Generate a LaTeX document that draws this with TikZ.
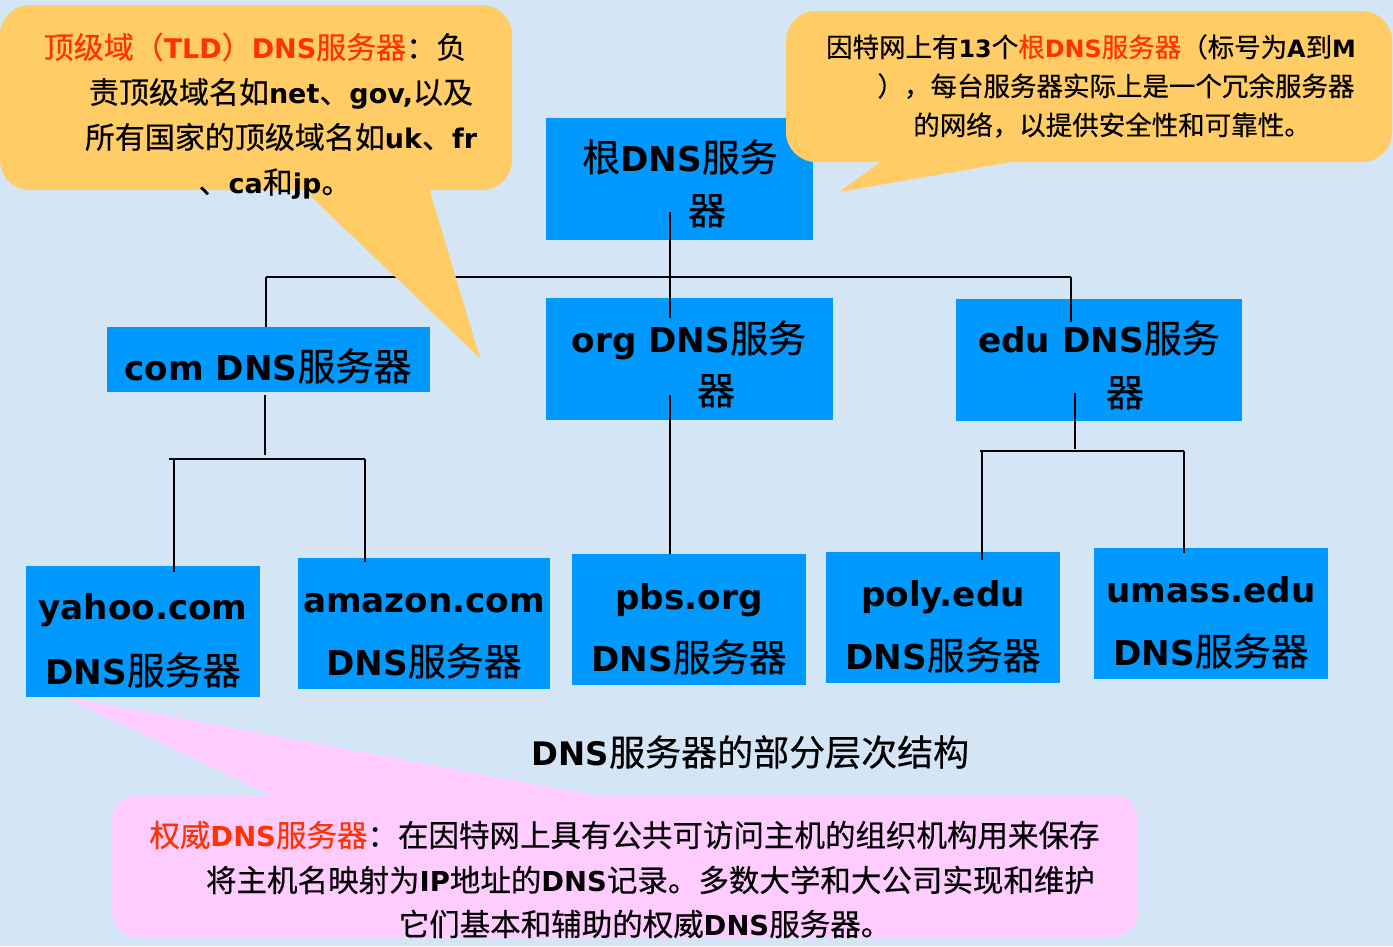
\documentclass[tikz,border=0pt]{standalone}
\usepackage{fontspec}
\setmainfont{Noto Sans CJK SC}[FakeBold=0.4]
\newfontfamily\latfont{DejaVu Sans}[Scale=0.9]
\definecolor{bgc}{HTML}{D4E5F6}
\definecolor{boxblue}{HTML}{0099FF}
\definecolor{calloutorange}{HTML}{FFCC66}
\definecolor{calloutpink}{HTML}{FFCCFF}
\definecolor{redtext}{HTML}{FF3300}
\newcommand{\lat}[1]{{\latfont\bfseries #1}}
\newcommand{\rt}[1]{\textcolor{redtext}{#1}}
\begin{document}
\begin{tikzpicture}[x=1pt,y=-1pt,
  box/.style={fill=boxblue, draw=none, rectangle, inner sep=0pt},
  txt/.style={inner sep=0pt, anchor=base},
  bigtxt/.style={txt, font=\fontsize{38}{40}\selectfont, yshift=-14.4pt},
  captxt/.style={txt, font=\fontsize{36}{40}\selectfont, yshift=-13.7pt},
  leaftxt/.style={txt, font=\fontsize{38}{40}\selectfont, yshift=-14.4pt},
  tldtxt/.style={txt, font=\fontsize{30}{32}\selectfont, yshift=-11.4pt},
  roottxt/.style={txt, font=\fontsize{26.5}{28}\selectfont, yshift=-10pt},
  pinktxt/.style={txt, font=\fontsize{30.5}{32}\selectfont, yshift=-11.6pt},
  link/.style={draw=black, line width=2.2pt},
  callout/.style={rectangle, rounded corners=30pt, inner sep=0pt, draw=none}
]
\useasboundingbox (0,0) rectangle (1393,946);
\fill[bgc] (0,0) rectangle (1393,946);

% boxes
\node[box, minimum width=267pt, minimum height=122pt] (root) at (679.5,179) {};
\node[box, minimum width=323pt, minimum height=65pt] (com) at (268.5,359.5) {};
\node[box, minimum width=287pt, minimum height=122pt] (org) at (689.5,359) {};
\node[box, minimum width=286pt, minimum height=122pt] (edu) at (1099,360) {};
\node[box, minimum width=234pt, minimum height=131pt] (yahoo) at (143,631.5) {};
\node[box, minimum width=252pt, minimum height=131pt] (amazon) at (424,623.5) {};
\node[box, minimum width=234pt, minimum height=131pt] (pbs) at (689,619.5) {};
\node[box, minimum width=234pt, minimum height=131pt] (poly) at (943,617.5) {};
\node[box, minimum width=234pt, minimum height=131pt] (umass) at (1211,613.5) {};

% junction coordinates
\coordinate (rootin) at (670,212);
\coordinate (orgtop) at (670,318);
\coordinate (hl) at (266,277);
\coordinate (hr) at (1071,277);
\coordinate (edutop) at (1071,322);
\coordinate (orgin) at (670,395);
\coordinate (comin) at (265,395);
\coordinate (comj) at (265,455);
\coordinate (cl) at (169,459);
\coordinate (cr) at (365,459);
\coordinate (ya) at (174,459);
\coordinate (yatop) at (174,572);
\coordinate (amtop) at (365,562);
\coordinate (eduin) at (1075,393);
\coordinate (eduj) at (1075,449);
\coordinate (el) at (980,451);
\coordinate (er) at (1184,451);
\coordinate (po) at (982,451);
\coordinate (potop) at (982,560);
\coordinate (umtop) at (1184,553);

% connectors
\draw[link] (rootin) -- (orgtop);
\draw[link] (hl) -- (hr);
\draw[link] (hl) -- (hl |- com.north);
\draw[link] (hr) -- (edutop);
\draw[link] (orgin) -- (orgin |- pbs.north);
\draw[link] (comin) -- (comj);
\draw[link] (cl) -- (cr);
\draw[link] (ya) -- (yatop);
\draw[link] (cr) -- (amtop);
\draw[link] (eduin) -- (eduj);
\draw[link] (el) -- (er);
\draw[link] (po) -- (potop);
\draw[link] (er) -- (umtop);

% box texts
\node[bigtxt] (roott1) at (680,157) {根\lat{DNS}服务};
\node[bigtxt] (roott2) at (707,210) {器};
\node[bigtxt] (comt) at (268,366) {\lat{com DNS}服务器};
\node[bigtxt] (orgt1) at (689,338) {\lat{org DNS}服务};
\node[bigtxt] (orgt2) at (716,390) {器};
\node[bigtxt] (edut1) at (1099,338) {\lat{edu DNS}服务};
\node[bigtxt] (edut2) at (1125,392) {器};
\node[leaftxt] (yahoot1) at (143,605) {\lat{yahoo.com}};
\node[leaftxt] (yahoot2) at (143,670) {\lat{DNS}服务器};
\node[leaftxt] (amazont1) at (424,598) {\lat{amazon.com}};
\node[leaftxt] (amazont2) at (424,661) {\lat{DNS}服务器};
\node[leaftxt] (pbst1) at (689,595) {\lat{pbs.org}};
\node[leaftxt] (pbst2) at (689,657) {\lat{DNS}服务器};
\node[leaftxt] (polyt1) at (943,592) {\lat{poly.edu}};
\node[leaftxt] (polyt2) at (943,655) {\lat{DNS}服务器};
\node[leaftxt] (umasst1) at (1211,588) {\lat{umass.edu}};
\node[leaftxt] (umasst2) at (1211,651) {\lat{DNS}服务器};

% caption
\node[captxt] (caption) at (750.5,752) {\lat{DNS}服务器的部分层次结构};

% TLD callout
\node[callout, fill=calloutorange, minimum width=512pt, minimum height=185pt] (tld) at (256,97.5) {};
\fill[calloutorange] (299,185) -- (480,358) -- (428,185) -- cycle;
\node[tldtxt] (tld1) at (255,47) {\rt{顶级域（\lat{TLD}）\lat{DNS}服务器}：负};
\node[tldtxt] (tld2) at (281,92) {责顶级域名如\lat{net}、\lat{gov,}以及};
\node[tldtxt] (tld3) at (281,137) {所有国家的顶级域名如\lat{uk}、\lat{fr}};
\node[tldtxt] (tld4) at (275,182) {、\lat{ca}和\lat{jp}。};

% root callout
\node[callout, fill=calloutorange, minimum width=606pt, minimum height=151pt] (rootc) at (1089,86.5) {};
\fill[calloutorange] (886,158) -- (839,192) -- (1034,158) -- cycle;
\node[roottxt] (rc1) at (1091,47) {因特网上有\lat{13}个\rt{根\lat{DNS}服务器}（标号为\lat{A}到\lat{M}};
\node[roottxt] (rc2) at (1116,86) {），每台服务器实际上是一个冗余服务器};
\node[roottxt] (rc3) at (1112,125) {的网络，以提供安全性和可靠性。};

% authoritative callout
\node[callout, rounded corners=25pt, fill=calloutpink, minimum width=1026pt, minimum height=142pt] (auth) at (625,866) {};
\fill[calloutpink] (281,800) -- (65,697) -- (621,800) -- cycle;
\node[pinktxt] (au1) at (624.5,835) {\rt{权威\lat{DNS}服务器}：在因特网上具有公共可访问主机的组织机构用来保存};
\node[pinktxt] (au2) at (650.5,880) {将主机名映射为\lat{IP}地址的\lat{DNS}记录。多数大学和大公司实现和维护};
\node[pinktxt] (au3) at (645,924) {它们基本和辅助的权威\lat{DNS}服务器。};
\end{tikzpicture}
\end{document}
